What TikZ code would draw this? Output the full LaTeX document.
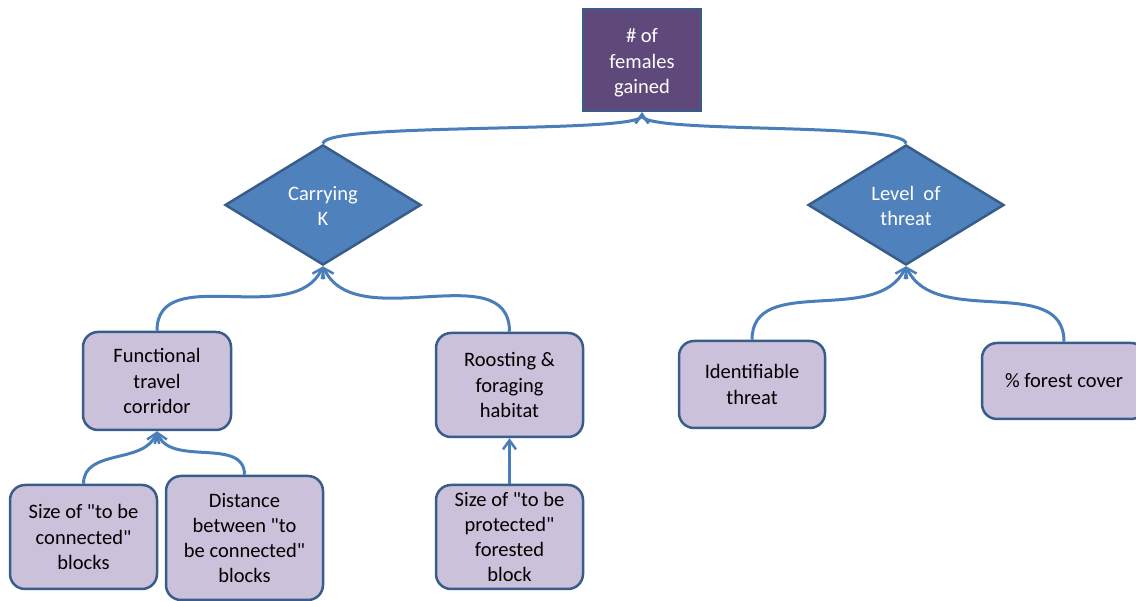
\documentclass[tikz,border=0pt]{standalone}
\usepackage{fontspec}
\setmainfont{Carlito}[Ligatures=TeXOff]
\usetikzlibrary{arrows.meta,shapes.geometric}
% centred lines, drawn a little lower than their nominal box
\newcommand{\lines}[2]{\raisebox{#1}[\height][\depth]{\begin{tabular}{@{}c@{}}#2\end{tabular}}}
\definecolor{edgeblue}{HTML}{385D8A}
\definecolor{linkblue}{HTML}{4A7EBB}
\definecolor{diafill}{HTML}{4F81BD}
\definecolor{goalfill}{HTML}{5F497A}
\definecolor{leaffill}{HTML}{CCC1DA}
\tikzset{
  txt/.style={font=\fontsize{20.5}{25.3}\selectfont, align=center},
  goalbox/.style={txt, draw=edgeblue, line width=2.5pt, fill=goalfill, text=white,
    rectangle, inner sep=0pt},
  factor/.style={txt, draw=edgeblue, line width=2.5pt, fill=diafill, text=white,
    diamond, inner sep=0pt, minimum width=196pt, minimum height=120pt},
  leaf/.style={txt, draw=edgeblue, line width=2.5pt, fill=leaffill, text=black,
    rectangle, rounded corners=15pt, inner sep=0pt},
  link/.style={draw=linkblue, line width=3pt,
    -{Straight Barb[length=9pt,width=13pt,line width=2.5pt]}},
}
\begin{document}
\begin{tikzpicture}[x=1pt,y=1pt]
\clip (0,0) rectangle (1136,601);
\fill[white] (0,0) rectangle (1136,601);

% goal at the top
\node[goalbox, minimum width=118pt, minimum height=102pt] (goal) at (642,541)
  {\lines{-3pt}{\# of\\females\\gained}};

% intermediate factors
\node[factor] (carry) at (323,396) {\lines{-3pt}{Carrying\\K}};
\node[factor] (threat) at (906,396) {\lines{-3pt}{Level\ \ of\\threat}};

% leaves
\node[leaf, minimum width=148pt, minimum height=98pt] (corridor) at (157,220)
  {Functional\\travel\\corridor};
\node[leaf, minimum width=147pt, minimum height=104pt] (habitat) at (509.5,216)
  {Roosting \&\\foraging\\habitat};
\node[leaf, minimum width=146pt, minimum height=87pt] (ident) at (752,216.5)
  {Identifiable\\threat};
\node[leaf, minimum width=164pt, minimum height=76pt] (cover) at (1064,220)
  {\% forest cover};
\node[leaf, minimum width=147pt, minimum height=104pt] (sizeconn) at (83.5,64)
  {Size of "to be\\connected"\\blocks};
\node[leaf, minimum width=157pt, minimum height=124pt] (dist) at (244.5,63)
  {Distance\\between "to\\be connected"\\blocks};
\node[leaf, minimum width=147pt, minimum height=104pt] (sizeprot) at (509.5,64)
  {Size of "to be\\protected"\\forested\\block};

% connectors
\draw[link] (carry.north) .. controls +(0,22) and +(0,-22) .. (goal.south);
\draw[link] (threat.north) .. controls +(0,22) and +(0,-22) .. (goal.south);
\draw[link] (corridor.north) to[out=90,in=-115] (carry.south);
\draw[link] (habitat.north) to[out=90,in=-65] (carry.south);
\draw[link] (ident.north) to[out=90,in=-115] (threat.south);
\draw[link] (cover.north) to[out=90,in=-65] (threat.south);
\draw[link] (sizeconn.north) to[out=90,in=-110] (corridor.south);
\draw[link] (dist.north) to[out=90,in=-70] (corridor.south);
\draw[link] (sizeprot.north) -- (habitat.south);
\end{tikzpicture}
\end{document}
